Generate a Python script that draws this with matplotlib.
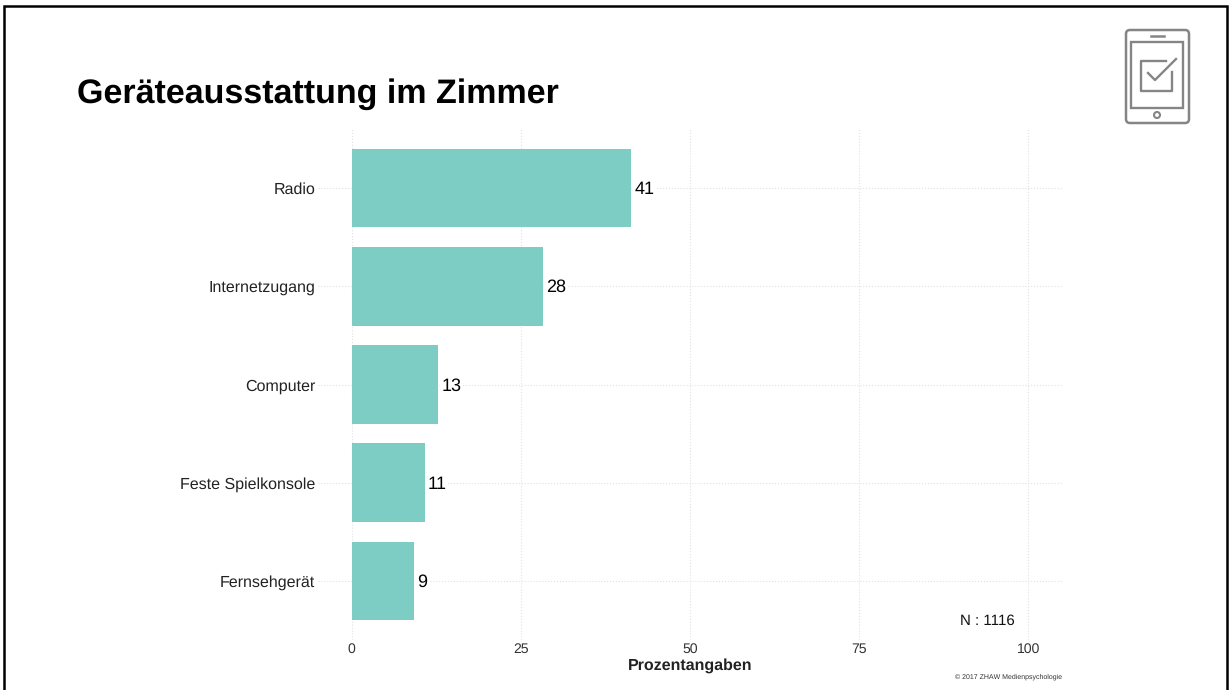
import matplotlib
matplotlib.use('Agg')
import matplotlib.pyplot as plt
from matplotlib.patches import FancyBboxPatch, Rectangle, Circle

plt.rcParams['font.family'] = ['Liberation Sans', 'DejaVu Sans']
plt.rcParams['text.hinting'] = 'no_hinting'
plt.rcParams['text.hinting_factor'] = 1

W, H = 1231, 690

categories = ['Fernsehgerät', 'Feste Spielkonsole', 'Computer', 'Internetzugang', 'Radio']
values = [9.2, 10.8, 12.8, 28.2, 41.3]
value_labels = ['9', '11', '13', '28', '41']
x_ticks = [0, 25, 50, 75, 100]

fig = plt.figure(figsize=(W / 100, H / 100), dpi=100)

# plot panel, pixel box
ax = fig.add_axes([318 / W, 1 - 640 / H, (1062 - 318) / W, (640 - 129) / H])
y = list(range(len(categories)))
ax.barh(y, values, height=0.8, color='#7ecdc4', zorder=3)
for yi, v, lab in zip(y, values, value_labels):
    ax.text(v + 0.45, yi - 0.012, lab, va='center', ha='left', fontsize=13.2, color='black', zorder=4,
            bbox=dict(facecolor='white', edgecolor='none', pad=1))

ax.set_xlim(-5, 105)
ax.set_ylim(-0.6, 4.6)
ax.set_yticks(y)
ax.set_yticklabels(categories, fontsize=11.25, color='#222222')
ax.set_xticks(x_ticks)
ax.set_xticklabels([str(t) for t in x_ticks], fontsize=10, color='#333333')
ax.tick_params(length=0, axis='y', pad=2)
ax.tick_params(length=0, axis='x', pad=2)
ax.grid(True, color='#e2e2e2', linestyle=':', linewidth=0.8, zorder=0)
for s in ax.spines.values():
    s.set_visible(False)

ax.set_xlabel('Prozentangaben', fontsize=11.2, fontweight='bold', color='#222222', labelpad=1.5)
ax.text(98, -0.41, 'N : 1116', ha='right', va='center', fontsize=11, color='#111111')

fig.text(77 / W, 1 - 94 / H, 'Geräteausstattung im Zimmer', fontsize=24.3, fontweight='bold',
         color='black', va='center', ha='left')
fig.text(1062 / W, 1 - 677 / H, '© 2017 ZHAW Medienpsychologie', fontsize=5.4, color='#333333',
         ha='right', va='center')

# overlay in pixel coordinates for the slide frame and the tablet icon
ov = fig.add_axes([0, 0, 1, 1], facecolor='none')
ov.set_xlim(0, W)
ov.set_ylim(H, 0)
ov.axis('off')
ov.plot([4, 4, 1227, 1227], [H, 6, 6, H], color='black', lw=1.8, solid_joinstyle='miter')

gray = '#858585'
ov.add_patch(FancyBboxPatch((1126, 30), 63, 93, boxstyle='round,pad=0,rounding_size=4',
                            fill=False, ec=gray, lw=1.8))
ov.add_patch(Rectangle((1131, 42), 52, 66, fill=False, ec=gray, lw=1.7))
ov.plot([1151, 1164], [36, 36], color=gray, lw=1.8)
ov.add_patch(Circle((1157, 115), 3, fill=False, ec=gray, lw=1.5))
ov.plot([1166, 1141, 1141, 1172, 1172], [61, 61, 91, 91, 72], color=gray, lw=1.7)
ov.plot([1148, 1155, 1176], [73, 80, 59], color=gray, lw=1.7)

fig.savefig('out.png', dpi=100)
